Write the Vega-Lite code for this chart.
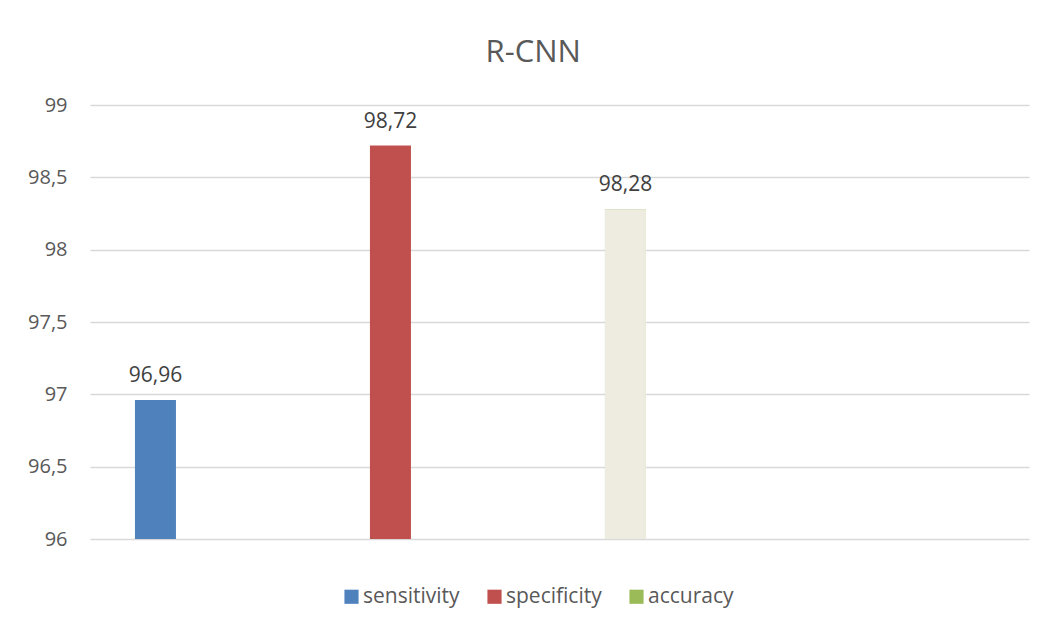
{
  "$schema": "https://vega.github.io/schema/vega-lite/v6.json",
  "autosize": "none",
  "width": 939,
  "height": 434,
  "padding": {"left": 90, "top": 105, "right": 24, "bottom": 90},
  "background": "#ffffff",
  "title": {
    "text": "R-CNN",
    "font": "Open Sans",
    "fontSize": 31,
    "fontWeight": "normal",
    "color": "#595959",
    "anchor": "middle",
    "frame": "bounds",
    "baseline": "alphabetic",
    "offset": 2,
    "dx": 5
  },
  "data": {
    "values": [
      {"metric": "sensitivity", "value": 96.96},
      {"metric": "specificity", "value": 98.72},
      {"metric": "accuracy", "value": 98.28}
    ]
  },
  "encoding": {
    "x": {
      "field": "metric",
      "type": "nominal",
      "sort": null,
      "scale": {
        "domain": ["sensitivity", "specificity", "accuracy"],
        "paddingInner": 0.8255,
        "paddingOuter": 0.9106,
        "align": 0.105
      },
      "axis": null
    },
    "y": {
      "field": "value",
      "type": "quantitative",
      "scale": {"domain": [96, 99], "zero": false, "nice": false},
      "axis": {
        "values": [96, 96.5, 97, 97.5, 98, 98.5, 99],
        "format": "~g",
        "title": null,
        "domain": false,
        "ticks": false,
        "grid": true,
        "gridColor": "#D9D9D9",
        "gridWidth": 1.5,
        "labelFont": "Open Sans",
        "labelFontSize": 20,
        "labelColor": "#595959",
        "labelPadding": 23
      }
    }
  },
  "layer": [
    {
      "mark": {"type": "bar"},
      "encoding": {
        "y2": {"datum": 96},
        "color": {
          "field": "metric",
          "type": "nominal",
          "scale": {
            "domain": ["sensitivity", "specificity", "accuracy"],
            "range": ["#4F81BD", "#C0504D", "#9BBB59"]
          },
          "legend": {
            "title": null,
            "orient": "none",
            "legendX": 251,
            "legendY": 481,
            "direction": "horizontal",
            "symbolType": "square",
            "symbolSize": 200,
            "symbolStrokeWidth": 0,
            "labelFont": "Open Sans",
            "labelFontSize": 21,
            "labelColor": "#595959",
            "labelOffset": 1,
            "columnPadding": 24
          }
        }
      }
    },
    {
      "transform": [{"filter": {"field": "metric", "equal": "accuracy"}}],
      "mark": {"type": "bar", "color": "#EEECE1"},
      "encoding": {"y2": {"datum": 96}}
    },
    {
      "mark": {
        "type": "text",
        "font": "Open Sans",
        "fontSize": 21,
        "color": "#404040",
        "baseline": "alphabetic",
        "dy": -18
      },
      "encoding": {
        "text": {"field": "value", "type": "quantitative", "format": ".2f"}
      }
    }
  ],
  "config": {
    "view": {"stroke": null},
    "locale": {
      "number": {
        "decimal": ",",
        "thousands": " ",
        "grouping": [3],
        "currency": ["", " €"]
      }
    }
  }
}
